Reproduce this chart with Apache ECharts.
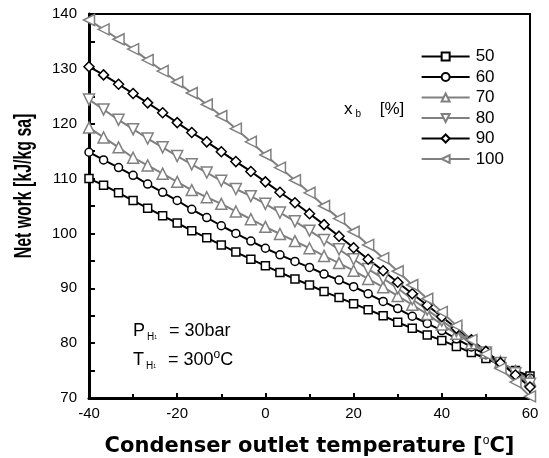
<!DOCTYPE html>
<html>
<head>
<meta charset="utf-8">
<script src="https://cdn.jsdelivr.net/npm/echarts@6/dist/echarts.min.js"></script>
<style>
  html, body { margin: 0; padding: 0; background: #fff; }
  #chart { width: 549px; height: 458px; }
</style>
</head>
<body>
<div id="chart"></div>
<script>
const temperatures = [-40, -36.7, -33.3, -30, -26.7, -23.3, -20, -16.7, -13.3, -10, -6.7, -3.3,
  0, 3.3, 6.7, 10, 13.3, 16.7, 20, 23.3, 26.7, 30, 33.3, 36.7, 40, 43.3, 46.7, 50, 53.3, 56.7, 60];

const xb50 = [110.0, 108.8, 107.4, 106.0, 104.6, 103.2, 101.9, 100.5, 99.2, 97.9, 96.6, 95.3,
  94.1, 92.9, 91.7, 90.6, 89.4, 88.3, 87.2, 86.1, 85.0, 83.8, 82.7, 81.5, 80.5, 79.4, 78.3, 77.2, 76.1, 75.0, 74.0];
const xb60 = [114.8, 113.4, 112.0, 110.6, 109.0, 107.5, 106.0, 104.4, 102.9, 101.4, 100.0, 98.6,
  97.3, 96.1, 94.9, 93.8, 92.6, 91.5, 90.3, 89.0, 87.6, 86.3, 84.9, 83.6, 82.3, 80.8, 79.3, 77.9, 76.4, 75.0, 73.6];
const xb70 = [119.3, 117.5, 115.7, 113.8, 112.4, 110.9, 109.4, 107.9, 106.6, 105.4, 104.0, 102.6,
  101.2, 99.9, 98.6, 97.3, 95.9, 94.6, 93.2, 91.7, 90.2, 88.6, 87.0, 85.3, 83.4, 81.7, 80.0, 78.3, 76.6, 74.9, 73.2];
const xb80 = [124.4, 122.6, 120.7, 119.0, 117.3, 115.7, 114.1, 112.6, 111.1, 109.6, 108.1, 106.8,
  105.4, 103.8, 102.2, 100.5, 98.8, 97.1, 95.3, 93.5, 91.8, 90.0, 88.0, 86.1, 84.1, 82.2, 80.2, 78.3, 76.4, 74.5, 72.6];
const xb90 = [130.4, 128.9, 127.2, 125.5, 123.8, 122.0, 120.2, 118.4, 116.7, 114.9, 113.1, 111.3,
  109.4, 107.5, 105.6, 103.6, 101.6, 99.5, 97.4, 95.3, 93.2, 91.1, 89.0, 86.9, 84.8, 82.7, 80.6, 78.5, 76.4, 74.2, 72.0];
const xb100 = [138.9, 137.2, 135.4, 133.6, 131.6, 129.6, 127.6, 125.6, 123.5, 121.4, 119.1, 116.7,
  114.3, 112.0, 109.7, 107.4, 105.0, 102.7, 100.3, 97.9, 95.5, 93.1, 90.6, 88.1, 85.7, 83.2, 80.6, 78.0, 75.4, 72.9, 70.3];

const seriesNames = ["50", "60", "70", "80", "90", "100"];
const seriesValues = [xb50, xb60, xb70, xb80, xb90, xb100];
const seriesColors = ["#000000", "#000000", "#808080", "#808080", "#000000", "#808080"];
const seriesSymbols = ["rect", "circle", "triangle", "triangle", "diamond", "triangle"];
const seriesRotate = [0, 0, 0, 180, 0, 90];
const seriesSymbolSize = [8, 8, 11, 11, 10, 11];

const font = "'Liberation Sans', Arial, sans-serif";

const chart = echarts.init(document.getElementById("chart"), undefined, { renderer: "canvas" });

const series = seriesNames.map((name, i) => ({
  name,
  type: "line",
  data: temperatures.map((t, j) => [t, seriesValues[i][j]]),
  symbol: seriesSymbols[i],
  symbolRotate: seriesRotate[i],
  symbolSize: seriesSymbolSize[i],
  showAllSymbol: true,
  lineStyle: { color: seriesColors[i], width: 2 },
  itemStyle: { color: "#ffffff", borderColor: seriesColors[i], borderWidth: 1.5 },
}));

chart.setOption({
  animation: false,
  grid: {
    left: 89,
    right: 19,
    top: 14,
    bottom: 60,
    outerBoundsMode: "none",
    show: true,
    borderColor: "#000",
    borderWidth: 2,
    backgroundColor: "transparent",
  },
  legend: {
    orient: "vertical",
    right: 40,
    top: 43,
    itemWidth: 48,
    itemHeight: 10,
    itemGap: 3.5,
    textStyle: { fontFamily: font, fontSize: 17, color: "#000", padding: [0, 0, 0, 1] },
    data: seriesNames,
  },
  xAxis: {
    type: "value",
    min: -40,
    max: 60,
    interval: 20,
    name: "Condenser outlet temperature [{sup|o}C]",
    nameLocation: "middle",
    nameGap: 37,
    nameTextStyle: {
      fontFamily: "'DejaVu Sans', sans-serif",
      fontSize: 21,
      fontWeight: "bold",
      color: "#000",
      rich: { sup: { fontFamily: font, fontSize: 12, fontWeight: "normal", padding: [0, 0, 12, 0] } },
    },
    axisLine: { onZero: false, lineStyle: { color: "#000", width: 3 } },
    axisTick: { inside: true, length: 5, lineStyle: { color: "#000", width: 2 } },
    minorTick: { show: true, splitNumber: 2, length: 4, lineStyle: { color: "#000", width: 2 } },
    axisLabel: { fontFamily: font, fontSize: 15, color: "#000", margin: 8 },
    splitLine: { show: false },
  },
  yAxis: {
    type: "value",
    min: 70,
    max: 140,
    interval: 10,
    axisLine: { onZero: false, lineStyle: { color: "#000", width: 3 } },
    axisTick: { inside: true, length: 6, lineStyle: { color: "#000", width: 2 } },
    minorTick: { show: true, splitNumber: 2, length: 6, lineStyle: { color: "#000", width: 2 } },
    axisLabel: { fontFamily: font, fontSize: 15, color: "#000", margin: 12 },
    splitLine: { show: false },
  },
  graphic: [
    {
      // condensed, rotated y-axis title
      type: "text",
      x: 25,
      y: 186,
      rotation: Math.PI / 2,
      scaleX: 0.69,
      style: {
        text: "Net work [kJ/kg sa]",
        fontFamily: font,
        fontSize: 23,
        fontWeight: "bold",
        fill: "#000",
        align: "center",
        verticalAlign: "middle",
      },
    },
    {
      type: "text",
      left: 344,
      top: 101,
      style: {
        text: "x{sub|b} [%]",
        fontFamily: font,
        fontSize: 17,
        fill: "#000",
        rich: { sub: { fontSize: 10, padding: [10, 14, 0, 3] } },
      },
    },
    {
      type: "text",
      left: 133,
      top: 322,
      style: {
        text: "P{sub|H}{tiny|1} = 30bar",
        fontFamily: font,
        fontSize: 18,
        fill: "#000",
        rich: { sub: { fontSize: 10, padding: [12, 0, 0, 2] }, tiny: { fontSize: 5, padding: [14, 7, 0, 0] } },
      },
    },
    {
      type: "text",
      left: 133,
      top: 349,
      style: {
        text: "T{sub|H}{tiny|1} = 300{sup|o}C",
        fontFamily: font,
        fontSize: 18,
        fill: "#000",
        rich: {
          sub: { fontSize: 10, padding: [12, 0, 0, 2] },
          tiny: { fontSize: 5, padding: [14, 7, 0, 0] },
          sup: { fontSize: 12, padding: [0, 0, 10, 0] },
        },
      },
    },
  ],
  series,
});

window.addEventListener("resize", () => chart.resize());
</script>
</body>
</html>
